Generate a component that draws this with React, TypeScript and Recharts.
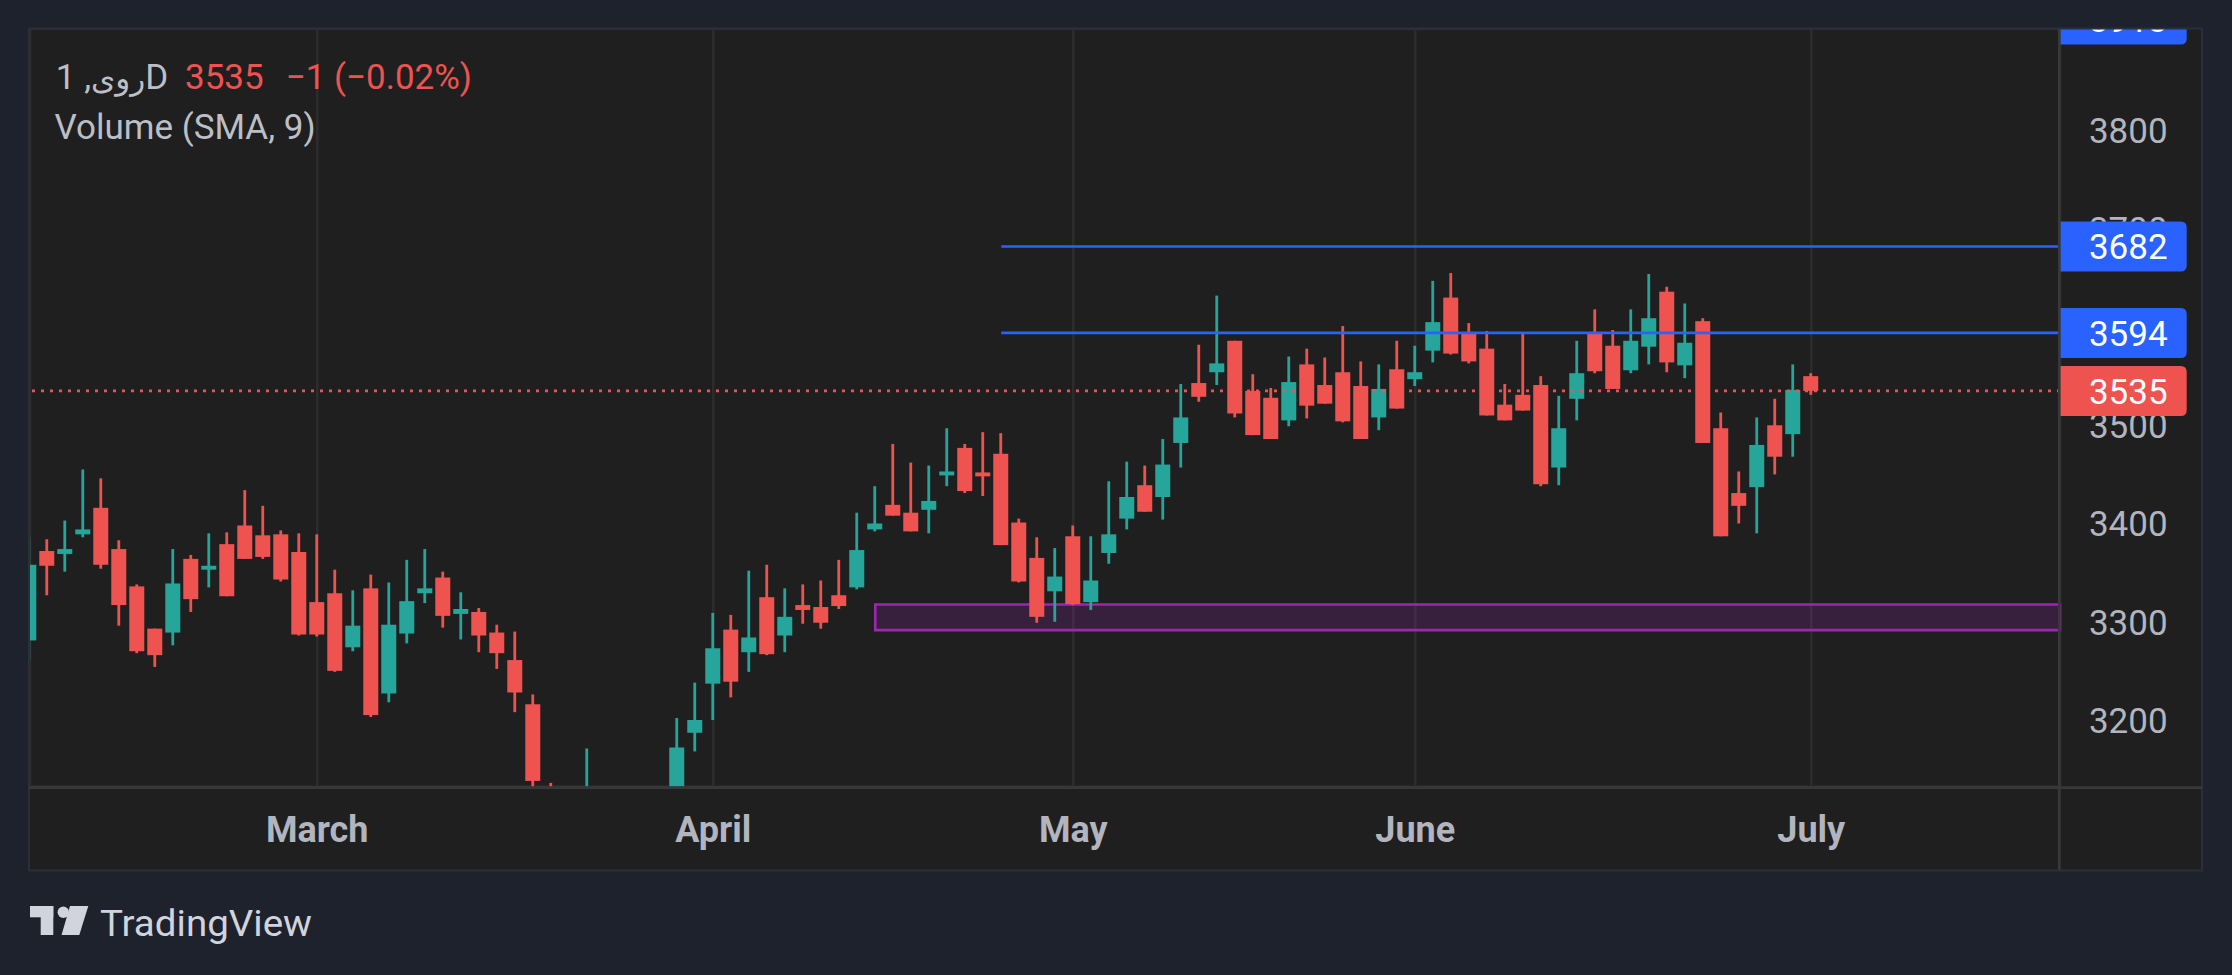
import React from "react";
import {
  ComposedChart,
  Bar,
  XAxis,
  YAxis,
  CartesianGrid,
  ReferenceLine,
  ReferenceArea,
} from "recharts";

// daily candles, index 0 = first visible bar (half cut by the left edge)
const OPEN = [
  3281, 3372, 3369, 3389, 3416, 3374, 3336, 3293, 3289, 3364,
  3353, 3379, 3398, 3388, 3389, 3371, 3320, 3329, 3274, 3334,
  3227, 3288, 3329, 3345, 3308, 3310, 3289, 3261, 3216, 3128,
  3095, 3062, 3104, 3078, 3048, 3094, 3120, 3187, 3237, 3292,
  3269, 3325, 3286, 3317, 3315, 3327, 3335, 3394, 3419, 3411,
  3414, 3449, 3477, 3452, 3471, 3401, 3365, 3331, 3387, 3320,
  3370, 3405, 3439, 3427, 3482, 3543, 3554, 3586, 3535, 3528,
  3505, 3562, 3541, 3554, 3540, 3508, 3557, 3547, 3576, 3630,
  3595, 3578, 3521, 3531, 3541, 3457, 3527, 3593, 3581, 3556,
  3580, 3636, 3561, 3606, 3497, 3431, 3437, 3500, 3491, 3550,
];
const HIGH = [
  3386, 3384, 3403, 3455, 3446, 3383, 3338, 3293, 3374, 3368,
  3390, 3391, 3434, 3418, 3393, 3390, 3389, 3353, 3332, 3348,
  3340, 3363, 3374, 3351, 3330, 3314, 3297, 3290, 3226, 3136,
  3118, 3171, 3120, 3092, 3110, 3125, 3202, 3238, 3309, 3307,
  3352, 3358, 3334, 3338, 3342, 3363, 3411, 3438, 3481, 3462,
  3459, 3497, 3481, 3493, 3492, 3405, 3386, 3375, 3398, 3387,
  3443, 3463, 3459, 3486, 3542, 3582, 3632, 3586, 3552, 3538,
  3570, 3578, 3569, 3601, 3565, 3562, 3586, 3581, 3647, 3655,
  3604, 3596, 3542, 3594, 3550, 3530, 3586, 3618, 3597, 3618,
  3654, 3641, 3624, 3609, 3513, 3453, 3508, 3527, 3562, 3553,
];
const LOW = [
  3261, 3327, 3351, 3386, 3354, 3296, 3268, 3254, 3276, 3310,
  3335, 3326, 3364, 3364, 3341, 3286, 3285, 3249, 3270, 3203,
  3218, 3278, 3319, 3294, 3282, 3269, 3252, 3208, 3112, 3078,
  3048, 3050, 3066, 3038, 3040, 3085, 3110, 3168, 3200, 3223,
  3249, 3266, 3269, 3298, 3293, 3313, 3333, 3392, 3408, 3392,
  3390, 3438, 3431, 3428, 3378, 3340, 3299, 3300, 3317, 3312,
  3359, 3394, 3412, 3404, 3457, 3524, 3541, 3508, 3490, 3486,
  3499, 3507, 3522, 3503, 3486, 3495, 3517, 3540, 3564, 3572,
  3563, 3510, 3505, 3515, 3438, 3439, 3505, 3553, 3537, 3553,
  3562, 3554, 3548, 3482, 3387, 3400, 3390, 3450, 3468, 3531,
];
const CLOSE = [
  3358, 3357, 3374, 3394, 3358, 3317, 3270, 3266, 3339, 3323,
  3357, 3326, 3364, 3366, 3343, 3287, 3287, 3250, 3296, 3205,
  3297, 3321, 3334, 3306, 3313, 3286, 3268, 3228, 3138, 3090,
  3060, 3105, 3075, 3046, 3096, 3118, 3172, 3200, 3273, 3239,
  3284, 3267, 3305, 3312, 3299, 3316, 3373, 3400, 3408, 3392,
  3423, 3453, 3433, 3448, 3378, 3341, 3305, 3346, 3318, 3342,
  3389, 3427, 3412, 3460, 3508, 3529, 3563, 3512, 3490, 3486,
  3544, 3520, 3522, 3504, 3486, 3537, 3517, 3554, 3605, 3573,
  3565, 3510, 3505, 3515, 3440, 3497, 3553, 3555, 3537, 3586,
  3609, 3564, 3584, 3482, 3387, 3418, 3480, 3468, 3536, 3535,
];

const MONTH_TICKS = [16, 38, 58, 77, 99];
const MONTH_LABELS = ["March", "April", "May", "June", "July"];
const PRICE_TICKS = [3200, 3300, 3400, 3500, 3600, 3700, 3800];

const LAST_PRICE = 3535;
const LEVEL_HI = 3682;
const LEVEL_LO = 3594;
const LEVEL_TOP = 3913;
const LEVEL_START = 54;
const ZONE = { from: 47, low: 3291.5, high: 3317.5 };

const UP = "#26a69a";
const DOWN = "#ef5350";
const BLUE = "#2962ff";
const PURPLE = "#9c27b0";
const AXIS_TEXT = "#b2b5be";
const FONT = "Roboto, 'Noto Sans', 'DejaVu Sans', sans-serif";

const W = 2172;
const H = 841;
const AXIS_W = 142;
const AXIS_H = 83.5;
const PLOT_W = W - AXIS_W;
const PLOT_H = H - AXIS_H;
const X_DOMAIN: [number, number] = [0.04, 112.82];
const Y_DOMAIN: [number, number] = [3132.3, 3903.4];

const data = OPEN.map((o, i) => ({
  k: i,
  o,
  h: HIGH[i],
  l: LOW[i],
  c: CLOSE[i],
  range: [LOW[i], HIGH[i]],
}));

function Candle(props: any) {
  const { x, y, width, height, payload } = props;
  if (payload == null || !height) return null;
  const { o, h, l, c } = payload;
  const ppu = height / (h - l);
  const py = (v: number) => y + (h - v) * ppu;
  const cx = x + width / 2;
  const color = c >= o ? UP : DOWN;
  const top = py(Math.max(o, c));
  const bot = py(Math.min(o, c));
  return (
    <g>
      <rect x={cx - 1.4} y={y} width={2.8} height={height} fill={color} />
      <rect x={cx - 7.5} y={top} width={15} height={Math.max(bot - top, 2.7)} fill={color} />
    </g>
  );
}

// coloured price tag on the right scale
function PriceTag({ viewBox, tagText, tagColor }: any) {
  if (!viewBox) return null;
  const y = viewBox.y;
  const x0 = PLOT_W - 2;
  const x1 = PLOT_W + 126.7;
  const r = 6;
  const top = y - 25;
  const bot = y + 25;
  const d = `M${x0},${top} H${x1 - r} Q${x1},${top} ${x1},${top + r} V${bot - r} Q${x1},${bot} ${x1 - r},${bot} H${x0} Z`;
  return (
    <g>
      <path d={d} fill={tagColor} />
      <text
        x={PLOT_W + 68.3}
        y={y + 12.8}
        textAnchor="middle"
        fill="#ffffff"
        fontSize={35}
        fontFamily={FONT}
      >
        {tagText}
      </text>
    </g>
  );
}

// plain scale label, drawn as a reference-line label so the tags can sit over it
function ScaleLabel({ viewBox, tagText }: any) {
  if (!viewBox) return null;
  return (
    <text
      x={PLOT_W + 68.3}
      y={viewBox.y + 12.8}
      textAnchor="middle"
      fill={AXIS_TEXT}
      fontSize={35}
      fontFamily={FONT}
    >
      {tagText}
    </text>
  );
}

function MonthTick({ x, payload }: any) {
  const i = MONTH_TICKS.indexOf(payload.value);
  return (
    <text
      x={x}
      y={PLOT_H + 55.2}
      textAnchor="middle"
      fill={AXIS_TEXT}
      fontSize={36}
      fontWeight={700}
      fontFamily={FONT}
    >
      {MONTH_LABELS[i]}
    </text>
  );
}

export default function App() {
  return (
    <div
      style={{
        position: "fixed",
        left: 0,
        top: 0,
        width: 2232,
        height: 975,
        background: "#1e222d",
        overflow: "hidden",
      }}
    >
      <div
        style={{
          position: "absolute",
          left: 30,
          top: 29,
          width: W,
          height: H,
          background: "#1f1f1f",
          overflow: "hidden",
        }}
      >
        <ComposedChart
          width={W}
          height={H}
          data={data}
          margin={{ top: 0, right: 0, bottom: 0, left: 0 }}
        >
          <CartesianGrid stroke="#2c2c2c" strokeWidth={2.7} />
          <XAxis
            dataKey="k"
            type="number"
            domain={X_DOMAIN}
            allowDataOverflow
            ticks={MONTH_TICKS}
            interval={0}
            height={AXIS_H}
            axisLine={false}
            tickLine={false}
            tick={(p: any) => <MonthTick {...p} />}
          />
          <YAxis
            orientation="right"
            width={AXIS_W}
            domain={Y_DOMAIN}
            allowDataOverflow
            ticks={PRICE_TICKS}
            interval={0}
            axisLine={false}
            tickLine={false}
            tick={false}
          />
          <ReferenceArea
            x1={ZONE.from}
            x2={X_DOMAIN[1]}
            y1={ZONE.low}
            y2={ZONE.high}
            fill={PURPLE}
            fillOpacity={0.2}
            stroke={PURPLE}
            strokeWidth={2.6}
          />
          <Bar
            dataKey="range"
            barSize={15}
            isAnimationActive={false}
            shape={(p: any) => <Candle {...p} />}
          />
          {PRICE_TICKS.map((v) => (
            <ReferenceLine
              key={v}
              y={v}
              stroke="none"
              label={(p: any) => <ScaleLabel viewBox={p.viewBox} tagText={String(v)} />}
            />
          ))}
          <ReferenceLine
            y={LAST_PRICE}
            stroke={DOWN}
            strokeWidth={2.7}
            strokeDasharray="3 6"
            label={(p: any) => (
              <PriceTag viewBox={p.viewBox} tagText={String(LAST_PRICE)} tagColor={DOWN} />
            )}
          />
          <ReferenceLine
            segment={[
              { x: LEVEL_START, y: LEVEL_HI },
              { x: X_DOMAIN[1], y: LEVEL_HI },
            ]}
            stroke={BLUE}
            strokeWidth={2.7}
            label={(p: any) => (
              <PriceTag viewBox={p.viewBox} tagText={String(LEVEL_HI)} tagColor={BLUE} />
            )}
          />
          <ReferenceLine
            segment={[
              { x: LEVEL_START, y: LEVEL_LO },
              { x: X_DOMAIN[1], y: LEVEL_LO },
            ]}
            stroke={BLUE}
            strokeWidth={2.7}
            label={(p: any) => (
              <PriceTag viewBox={p.viewBox} tagText={String(LEVEL_LO)} tagColor={BLUE} />
            )}
          />
          <ReferenceLine
            y={LEVEL_TOP}
            ifOverflow="visible"
            stroke="none"
            label={(p: any) => (
              <PriceTag viewBox={p.viewBox} tagText={String(LEVEL_TOP)} tagColor={BLUE} />
            )}
          />
        </ComposedChart>
      </div>

      <svg
        width={2232}
        height={975}
        style={{ position: "absolute", left: 0, top: 0, pointerEvents: "none" }}
      >
        {/* pane frame and separators */}
        <rect x={29} y={28.5} width={2173} height={842} fill="none" stroke="#2b2f3a" strokeWidth={2} />
        <line x1={2059.3} y1={29} x2={2059.3} y2={870} stroke="#383838" strokeWidth={2.7} />
        <line x1={29} y1={787.6} x2={2202} y2={787.6} stroke="#383838" strokeWidth={2.7} />

        {/* legend */}
        <g fontFamily={FONT} fontSize={35}>
          <text x={55.8} y={89.3} fill="#bcbfc6">
            <tspan fontSize={31}>روی</tspan>, 1D
          </text>
          <text x={185} y={89.3} fill={DOWN}>3535</text>
          <text x={285.7} y={89.3} fill={DOWN}>−1</text>
          <text x={334} y={89.3} fill={DOWN}>(−0.02%)</text>
          <text x={54.5} y={139.3} fill="#bcbfc6">Volume (SMA, 9)</text>
        </g>

        {/* TradingView mark */}
        <g fill="#d1d4dc">
          <rect x={30} y={906} width={23.3} height={11.3} />
          <rect x={40.7} y={906} width={12.6} height={29} />
          <circle cx={63.3} cy={912.3} r={5.7} />
          <polygon points="70,906 88.3,906 79.3,935 61.5,935" />
          <text x={100} y={936} fontSize={37} fontFamily={FONT} textLength={212} lengthAdjust="spacingAndGlyphs">
            TradingView
          </text>
        </g>
      </svg>
    </div>
  );
}
